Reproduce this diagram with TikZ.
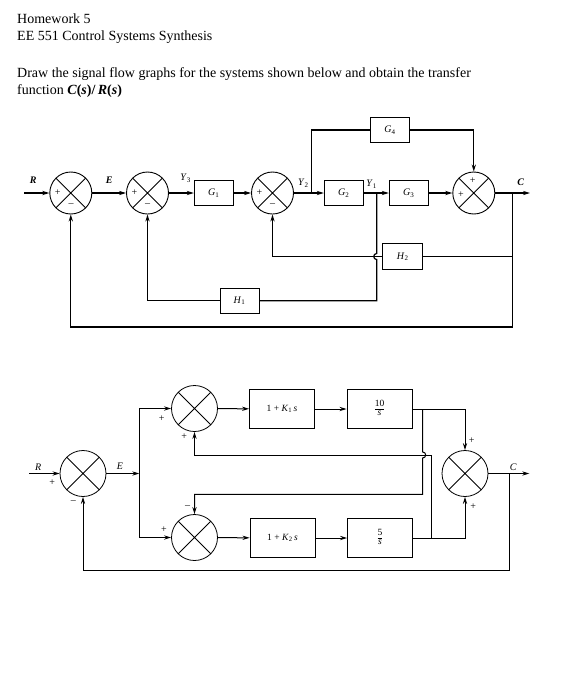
\documentclass[tikz,border=0pt]{standalone}
\usepackage{fontspec}
\setmainfont{Liberation Serif}
\usetikzlibrary{arrows.meta}
\newcommand{\gsub}[2]{\textit{#1}\textsubscript{#2}}
\newcommand{\tfrac}[2]{{\renewcommand\arraystretch{0.85}\begin{tabular}{@{}c@{}}#1\\\hline\textit{#2}\end{tabular}}}
\tikzset{
  head/.style={anchor=base west,inner sep=0pt,font=\fontsize{14}{17}\selectfont},
  sumx/.style={circle,draw,line width=0.9pt,minimum size=42pt,inner sep=0pt,
    path picture={\draw[line width=0.8pt] (path picture bounding box.north west)--(path picture bounding box.south east)
      (path picture bounding box.north east)--(path picture bounding box.south west);}},
  sumb/.style={sumx,line width=0.8pt,minimum size=46pt},
  blk/.style={draw,line width=0.9pt,minimum width=39pt,minimum height=25pt,inner sep=0pt,font=\fontsize{10}{11}\selectfont},
  blkb/.style={blk,line width=0.8pt,minimum width=65pt,minimum height=39pt,font=\fontsize{9.5}{10}\selectfont},
  sig/.style={-{Stealth[length=7pt,width=4.2pt]}},
  lbl/.style={inner sep=0pt,font=\fontsize{10}{11}\selectfont},
  sgn/.style={inner sep=0pt,font=\fontsize{10}{11}\selectfont}
}
\begin{document}
\begin{tikzpicture}[x=1pt,y=-1pt]
\useasboundingbox[fill=white] (0,0) rectangle (581,681);
\node[head] (hw) at (17,23) {Homework 5};
\node[head] (course) at (17,40) {EE 551 Control Systems Synthesis};
\node[head] (task) at (17,77.5) {Draw the signal flow graphs for the systems shown below and obtain the transfer};
\node[head] (task2) at (17,94.5) {function \textbf{\textit{C}(\textit{s})/\,\textit{R}(\textit{s})}};

\begin{scope}[line width=1.2pt]
\node[sumx] (c1) at (70.8,193) {};
\node[sumx] (c2) at (147.5,193) {};
\node[blk] (g1) at (213.8,193) {\gsub{G}{1}};
\node[sumx] (c3) at (272.5,193) {};
\node[blk] (g2) at (343.8,193) {\gsub{G}{2}};
\node[blk] (g3) at (408.8,193) {\gsub{G}{3}};
\node[sumx] (c4) at (473.8,193) {};
\node[blk] (g4) at (390,130) {\gsub{G}{4}};
\node[blk] (h1) at (239.5,300.8) {\gsub{H}{1}};
\node[blk,minimum width=40pt,minimum height=26pt] (h2) at (402.7,256.5) {\gsub{H}{2}};
\coordinate (in1) at (24,193);
\coordinate (y2) at (311.7,193);
\coordinate (y1) at (376.7,193);
\coordinate (cb) at (512.3,193);
\coordinate (out1) at (530,193);
\coordinate (cbd) at (512.3,327);
\coordinate (hop1) at (376.7,256.5);
\coordinate (y1d) at (376.7,300.8);
\draw[sig] (in1) -- (c1);
\draw[sig] (c1) -- (c2);
\draw[sig] (c2) -- (g1);
\draw[sig] (g1) -- (c3);
\draw (c3) -- (y2);
\draw[sig] (y2) -- (g2);
\draw (g2) -- (y1);
\draw[sig] (y1) -- (g3);
\draw[sig] (g3) -- (c4);
\draw[sig] (c4) -- (out1);
\draw (y2) |- (g4);
\draw[sig] (g4) -| (c4);
\draw (cb) |- (h2);
\draw[sig] (h2) -| (c3);
\draw[sig] (cb) -- (cbd) -| (c1);
\draw (y1) -- ([yshift=3pt]hop1) arc[start angle=90,end angle=270,radius=3pt] -- (y1d) -- (h1);
\draw[sig] (h1) -| (c2);
\end{scope}
\node[lbl] (lR) at (33.3,180.7) {\textbf{\textit{R}}};
\node[lbl] (lE) at (109.3,180.7) {\textbf{\textit{E}}};
\node[lbl] (lY3) at (185.7,178.5) {\gsub{Y}{3}};
\node[lbl] (lY2) at (303.3,183) {\gsub{Y}{2}};
\node[lbl] (lY1) at (371.7,184) {\gsub{Y}{1}};
\node[lbl] (lC) at (520.7,182.7) {\textbf{\textit{C}}};
\node[sgn] (p1) at (57.7,193) {+};
\node[sgn] (m1) at (71,205.5) {\textendash};
\node[sgn] (p2) at (134.5,193) {+};
\node[sgn] (m2) at (147.5,205.5) {\textendash};
\node[sgn] (p3) at (259.5,193) {+};
\node[sgn] (m3) at (272.5,205.5) {\textendash};
\node[sgn] (p4) at (472.7,181) {+};
\node[sgn] (p5) at (461,194.3) {+};

\begin{scope}[line width=1pt]
\node[sumb] (a) at (83,473.5) {};
\node[sumb] (b) at (194.5,408.5) {};
\node[sumb] (cc) at (194.5,537.5) {};
\node[sumb] (d) at (465,473.5) {};
\node[blkb] (k1) at (282,409) {1 + \gsub{K}{1}\,\textit{s}};
\node[blkb] (t10) at (379.5,409) {\tfrac{10}{s}};
\node[blkb] (k2) at (282.5,538) {1 + \gsub{K}{2}\,\textit{s}};
\node[blkb] (t5) at (380,538) {\tfrac{5}{s}};
\coordinate (rin) at (29.3,473.5);
\coordinate (eb) at (139.3,473.5);
\coordinate (cout) at (529.3,473.5);
\coordinate (cb2) at (509.3,473.5);
\coordinate (cb2d) at (509.3,570.5);
\coordinate (b10) at (422.7,409);
\coordinate (hop2) at (422.7,455);
\coordinate (b10d) at (422.7,494.3);
\coordinate (b5) at (431.7,538);
\coordinate (b5u) at (431.7,455);
\draw[sig] (rin) -- (a);
\draw[sig] (a) -- (eb);
\draw[sig] (eb) |- (b);
\draw[sig] (eb) |- (cc);
\draw[sig] (b) -- (k1);
\draw[sig] (k1) -- (t10);
\draw[sig] (cc) -- (k2);
\draw[sig] (k2) -- (t5);
\draw[sig] (t10) -| (d);
\draw[sig] (t5) -| (d);
\draw[sig] (d) -- (cout);
\draw[sig] (cb2) -- (cb2d) -| (a);
\draw[sig] (b10) -- ([yshift=3pt]hop2) arc[start angle=90,end angle=-90,radius=3pt] -- (b10d) -| (cc);
\draw[sig] (b5) -- (b5u) -| (b);
\end{scope}
\node[lbl] (lR2) at (38.3,467) {\textit{R}};
\node[lbl] (lE2) at (120,466.7) {\textit{E}};
\node[lbl] (lC2) at (513.3,467) {\textit{C}};
\node[sgn] (pa) at (52.3,482.3) {+};
\node[sgn] (ma) at (73.3,502.3) {\textendash};
\node[sgn] (pb1) at (161.7,418.3) {+};
\node[sgn] (pb2) at (184.3,436.7) {+};
\node[sgn] (mc) at (187.7,507.3) {\textendash};
\node[sgn] (pc) at (164,530) {+};
\node[sgn] (pd1) at (471.7,441) {+};
\node[sgn] (pd2) at (473.3,506.7) {+};
\end{tikzpicture}
\end{document}
